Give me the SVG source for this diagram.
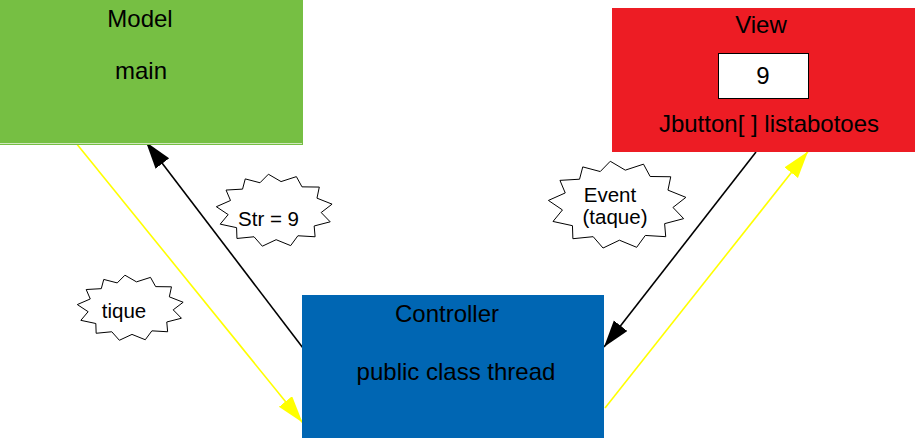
<svg xmlns="http://www.w3.org/2000/svg" xmlns:xlink="http://www.w3.org/1999/xlink" width="915" height="439" viewBox="0 0 915 439">
<style>
  text { font-family: "Liberation Sans", Arial, sans-serif; fill: #000; text-anchor: middle; }
  .big { font-size: 24px; }
  .small { font-size: 20.5px; }
  .bang { fill: #fff; stroke: #000; stroke-width: 1; vector-effect: non-scaling-stroke; stroke-linejoin: miter; }
  .blk { stroke: #000; stroke-width: 1.6; fill: none; }
  .yel { stroke: #ffff00; stroke-width: 1.6; fill: none; }
</style>
<defs>
  <marker id="ahB" markerUnits="userSpaceOnUse" markerWidth="28" markerHeight="18" viewBox="0 0 28 18" refX="27" refY="8.5" orient="auto">
    <path d="M0,0 L27,8.5 L0,17 z" fill="#000"/>
  </marker>
  <marker id="ahY" markerUnits="userSpaceOnUse" markerWidth="28" markerHeight="18" viewBox="0 0 28 18" refX="27" refY="8.5" orient="auto">
    <path d="M0,0 L27,8.5 L0,17 z" fill="#ffff00"/>
  </marker>
  <path id="bang" class="bang" d="M448,3 L556,104 L687,36 L735,176 L883,179 L863,331 L992,413 L899,528 L976,655 L839,712 L847,860 L700,846 L638,981 L514,900 L396,989 L325,860 L179,883 L176,735 L36,687 L104,556 L3,448 L124,363 L86,220 L227,207 L250,67 L376,120 Z"/>
</defs>

<g id="connectors">
  <line class="yel" x1="76" y1="143" x2="302.5" y2="422.5" marker-end="url(#ahY)"/>
  <line class="blk" x1="303" y1="348" x2="146" y2="142" marker-end="url(#ahB)"/>
  <line class="blk" x1="756" y1="152" x2="604" y2="347" marker-end="url(#ahB)"/>
  <line class="yel" x1="605" y1="408" x2="808" y2="151.5" marker-end="url(#ahY)"/>
</g>

<g id="model">
  <rect x="0" y="0" width="303" height="145" fill="#76bf43"/>
  <line x1="0" y1="143.5" x2="302" y2="143.5" stroke="#cfe7bd" stroke-width="1"/>
  <text class="big" x="140" y="27">Model</text>
  <text class="big" x="141" y="79">main</text>
</g>

<g id="view">
  <rect x="612" y="8" width="303" height="144" fill="#ed1c24"/>
  <rect x="718.5" y="53.5" width="90" height="45" fill="#fff" stroke="#000" stroke-width="1"/>
  <text class="big" x="761" y="33">View</text>
  <text class="big" x="763" y="84">9</text>
  <text class="big" x="769" y="132">Jbutton[ ] listabotoes</text>
</g>

<g id="controller">
  <rect x="302" y="295" width="302" height="143" fill="#0066b3"/>
  <text class="big" x="447" y="322">Controller</text>
  <text class="big" x="456" y="380">public class thread</text>
</g>

<g id="label-str">
  <use xlink:href="#bang" transform="translate(216,174) scale(0.117,0.073)"/>
  <text class="small" x="268.5" y="226">Str = 9</text>
</g>

<g id="label-event">
  <use xlink:href="#bang" transform="translate(548,161) scale(0.139,0.088)"/>
  <text class="small" x="610" y="202">Event</text>
  <text class="small" x="615" y="224">(taque)</text>
</g>

<g id="label-tique">
  <use xlink:href="#bang" transform="translate(77,275) scale(0.107,0.066)"/>
  <text class="small" x="124" y="318">tique</text>
</g>
</svg>
